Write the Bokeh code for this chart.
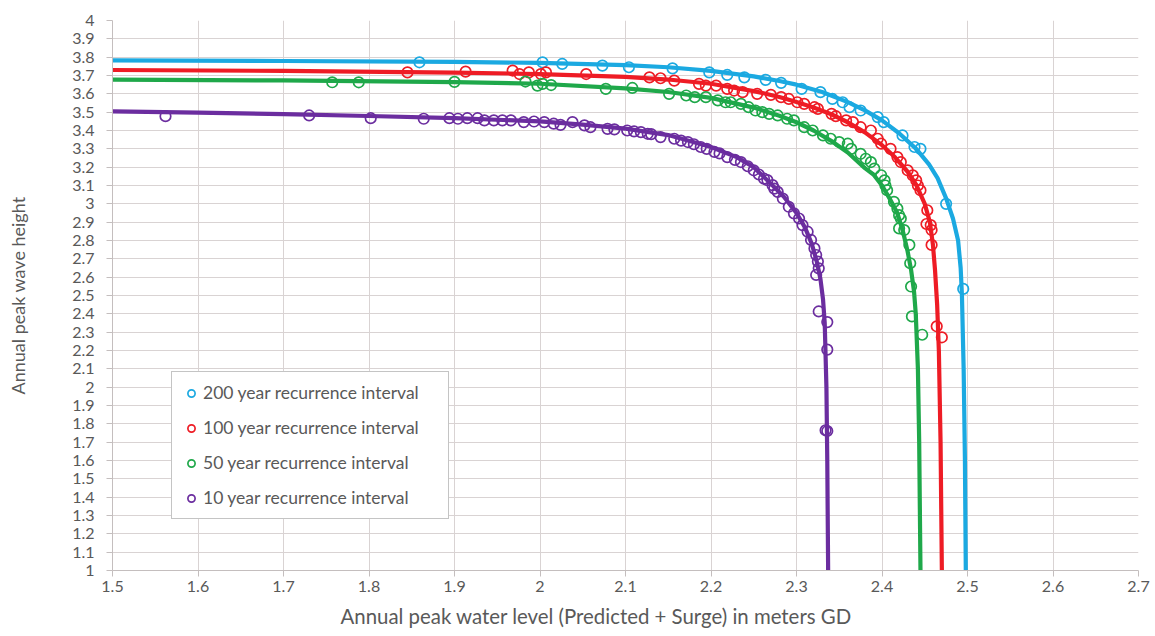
from bokeh.plotting import figure
from bokeh.models import (Legend, LegendItem, FixedTicker, NumeralTickFormatter,
                          Range1d, Title)
from bokeh.embed import file_html
from bokeh.resources import INLINE

# ---------------- data ----------------
x_ticks = [1.5, 1.6, 1.7, 1.8, 1.9, 2.0, 2.1, 2.2, 2.3, 2.4, 2.5, 2.6, 2.7]
y_ticks = [1.0, 1.1, 1.2, 1.3, 1.4, 1.5, 1.6, 1.7, 1.8, 1.9, 2.0, 2.1, 2.2, 2.3, 2.4,
           2.5, 2.6, 2.7, 2.8, 2.9, 3.0, 3.1, 3.2, 3.3, 3.4, 3.5, 3.6, 3.7, 3.8, 3.9, 4.0]

series_labels = ["200 year recurrence interval", "100 year recurrence interval",
                 "50 year recurrence interval", "10 year recurrence interval"]

x_title = "Annual peak water level (Predicted + Surge) in meters GD"
y_title = "Annual peak wave height"

# fitted curves
fit200_x = [1.50, 1.70, 1.90, 2.00, 2.10, 2.15, 2.20, 2.25, 2.28, 2.30, 2.33, 2.36, 2.38,
            2.40, 2.42, 2.44, 2.455, 2.465, 2.475, 2.483, 2.489, 2.492, 2.4935, 2.4955, 2.497, 2.498]
fit200_y = [3.782, 3.779, 3.774, 3.769, 3.757, 3.745, 3.725, 3.695, 3.670, 3.650, 3.610, 3.555, 3.510,
            3.455, 3.385, 3.300, 3.215, 3.140, 3.030, 2.920, 2.800, 2.650, 2.500, 2.100, 1.600, 1.000]

fit100_x = [1.50, 1.70, 1.90, 2.00, 2.10, 2.15, 2.20, 2.25, 2.28, 2.30, 2.32, 2.34, 2.36, 2.38,
            2.40, 2.415, 2.43, 2.44, 2.45, 2.456, 2.4595, 2.462, 2.4645, 2.4665, 2.4685, 2.470]
fit100_y = [3.730, 3.725, 3.716, 3.708, 3.692, 3.678, 3.655, 3.615, 3.583, 3.556, 3.525, 3.490, 3.445, 3.390,
            3.320, 3.255, 3.175, 3.105, 3.000, 2.900, 2.780, 2.640, 2.450, 2.200, 1.700, 1.000]

fit50_x = [1.50, 1.70, 1.90, 2.00, 2.10, 2.15, 2.20, 2.25, 2.28, 2.30, 2.32, 2.34, 2.36, 2.38,
           2.39, 2.40, 2.41, 2.418, 2.425, 2.43, 2.434, 2.4375, 2.4395, 2.442, 2.4435, 2.445]
fit50_y = [3.678, 3.673, 3.664, 3.655, 3.630, 3.610, 3.578, 3.525, 3.480, 3.445, 3.400, 3.345, 3.280, 3.195,
           3.160, 3.100, 3.020, 2.950, 2.840, 2.740, 2.640, 2.520, 2.400, 2.100, 1.700, 1.000]

fit10_x = [1.50, 1.60, 1.70, 1.80, 1.90, 2.00, 2.05, 2.10, 2.15, 2.20, 2.23, 2.25, 2.27, 2.285,
           2.30, 2.31, 2.318, 2.324, 2.328, 2.331, 2.333, 2.335, 2.336, 2.337]
fit10_y = [3.504, 3.497, 3.489, 3.479, 3.467, 3.450, 3.432, 3.410, 3.375, 3.310, 3.255, 3.200, 3.110, 3.040,
           2.950, 2.870, 2.780, 2.680, 2.590, 2.480, 2.350, 2.000, 1.600, 1.000]

# observed points
pts200_x = [1.859, 2.003, 2.026, 2.073, 2.104, 2.155, 2.198, 2.219, 2.239, 2.264, 2.282, 2.306,
            2.328, 2.342, 2.354, 2.362, 2.375, 2.395, 2.402, 2.424, 2.438, 2.445, 2.475, 2.495]
pts200_y = [3.772, 3.772, 3.763, 3.754, 3.745, 3.739, 3.717, 3.703, 3.690, 3.676, 3.660, 3.627,
            3.609, 3.572, 3.554, 3.527, 3.509, 3.473, 3.446, 3.373, 3.310, 3.300, 3.000, 2.536]

pts100_x = [1.845, 1.913, 1.968, 1.976, 1.987, 2.001, 2.007, 2.054, 2.128, 2.141, 2.157, 2.186,
            2.194, 2.206, 2.219, 2.227, 2.237, 2.254, 2.270, 2.282, 2.291, 2.301, 2.309, 2.321,
            2.325, 2.341, 2.346, 2.358, 2.366, 2.375, 2.387, 2.395, 2.399, 2.410, 2.418, 2.422,
            2.430, 2.436, 2.440, 2.442, 2.445, 2.453, 2.452, 2.457, 2.458, 2.458, 2.464, 2.470]
pts100_y = [3.717, 3.721, 3.727, 3.708, 3.717, 3.708, 3.717, 3.708, 3.690, 3.685, 3.672, 3.654,
            3.645, 3.645, 3.627, 3.618, 3.609, 3.600, 3.594, 3.582, 3.572, 3.554, 3.545, 3.527,
            3.518, 3.491, 3.478, 3.455, 3.446, 3.418, 3.400, 3.355, 3.328, 3.300, 3.255, 3.228,
            3.183, 3.155, 3.128, 3.100, 3.074, 2.965, 2.890, 2.884, 2.857, 2.776, 2.332, 2.272]

pts50_x = [1.757, 1.788, 1.900, 1.983, 1.997, 2.003, 2.013, 2.077, 2.108, 2.151, 2.171, 2.181,
           2.194, 2.208, 2.217, 2.223, 2.235, 2.244, 2.252, 2.260, 2.268, 2.278, 2.289, 2.297,
           2.309, 2.319, 2.331, 2.340, 2.350, 2.360, 2.364, 2.375, 2.381, 2.387, 2.391, 2.399,
           2.403, 2.404, 2.406, 2.414, 2.418, 2.420, 2.422, 2.420, 2.426, 2.432, 2.433, 2.434,
           2.435, 2.447]
pts50_y = [3.663, 3.663, 3.665, 3.667, 3.645, 3.654, 3.648, 3.627, 3.632, 3.600, 3.591, 3.582,
           3.582, 3.564, 3.554, 3.554, 3.545, 3.527, 3.509, 3.500, 3.491, 3.482, 3.464, 3.455,
           3.418, 3.400, 3.373, 3.355, 3.337, 3.328, 3.300, 3.273, 3.246, 3.228, 3.192, 3.156,
           3.128, 3.100, 3.074, 3.011, 2.974, 2.938, 2.920, 2.866, 2.857, 2.776, 2.676, 2.549,
           2.386, 2.286]

pts10_x = [1.562, 1.730, 1.802, 1.864, 1.894, 1.904, 1.915, 1.927, 1.935, 1.946, 1.956, 1.966,
           1.981, 1.993, 2.005, 2.016, 2.024, 2.038, 2.052, 2.059, 2.079, 2.087, 2.102, 2.110,
           2.118, 2.126, 2.130, 2.141, 2.157, 2.165, 2.173, 2.180, 2.188, 2.195, 2.204, 2.210,
           2.219, 2.228, 2.235, 2.243, 2.250, 2.256, 2.262, 2.266, 2.272, 2.274, 2.278, 2.284,
           2.291, 2.297, 2.303, 2.307, 2.313, 2.317, 2.321, 2.323, 2.325, 2.326, 2.323, 2.326,
           2.336, 2.336, 2.336, 2.334]
pts10_y = [3.478, 3.482, 3.467, 3.464, 3.467, 3.464, 3.467, 3.467, 3.455, 3.455, 3.455, 3.455,
           3.446, 3.449, 3.446, 3.437, 3.431, 3.446, 3.428, 3.418, 3.409, 3.406, 3.400, 3.395,
           3.391, 3.382, 3.380, 3.364, 3.355, 3.345, 3.337, 3.325, 3.310, 3.300, 3.283, 3.275,
           3.255, 3.240, 3.228, 3.205, 3.183, 3.160, 3.137, 3.129, 3.102, 3.083, 3.065, 3.029,
           2.984, 2.948, 2.920, 2.884, 2.848, 2.803, 2.757, 2.721, 2.685, 2.648, 2.612, 2.413,
           2.355, 2.205, 1.761, 1.765]

colors = ["#1BA9E1", "#EE1C25", "#1FA84A", "#6B2D9F"]

fits = [(fit200_x, fit200_y), (fit100_x, fit100_y), (fit50_x, fit50_y), (fit10_x, fit10_y)]
pts = [(pts200_x, pts200_y), (pts100_x, pts100_y), (pts50_x, pts50_y), (pts10_x, pts10_y)]

FONT = "Lato"
TXT = "#595959"
GRID = "#D9D3D3"

p = figure(width=1155, height=636, output_backend="svg", toolbar_location=None,
           x_range=Range1d(1.5, 2.7), y_range=Range1d(1.0, 4.0),
           min_border_left=112, min_border_right=17, min_border_top=20, min_border_bottom=66)
p.outline_line_color = None
p.background_fill_color = "white"
p.border_fill_color = "white"

for ax, ticks in ((p.xaxis[0], x_ticks), (p.yaxis[0], y_ticks)):
    ax.ticker = FixedTicker(ticks=ticks)
    ax.formatter = NumeralTickFormatter(format="0.[0]")
    ax.major_label_text_font = FONT
    ax.major_label_text_font_size = "16px"
    ax.major_label_text_color = TXT
    ax.axis_line_color = "#C4BEBE"
    ax.major_tick_line_color = "#C4BEBE"
    ax.major_tick_in = 0
    ax.major_tick_out = 6
    ax.minor_tick_line_color = None
    ax.axis_label_text_font = FONT
    ax.axis_label_text_font_style = "normal"
    ax.axis_label_text_color = TXT

p.yaxis.axis_label = y_title
p.yaxis.axis_label_text_font_size = "18px"
p.xaxis.major_label_standoff = 4
p.yaxis.major_label_standoff = 12
p.yaxis.axis_label_standoff = 40

# x-axis title as a below-title so it can be shifted left like the original
xt = Title(text=x_title, align="left", offset=228, standoff=14,
           text_font=FONT, text_font_size="20.4px", text_font_style="normal",
           text_color=TXT)
p.add_layout(xt, "below")

p.xgrid.ticker = FixedTicker(ticks=x_ticks)
p.ygrid.ticker = FixedTicker(ticks=y_ticks)
for g in (p.xgrid[0], p.ygrid[0]):
    g.grid_line_color = GRID
    g.grid_line_width = 1

scatter_renderers = []
for (fx, fy), col in zip(fits, colors):
    p.line(fx, fy, line_color=col, line_width=4.2, line_join="round", line_cap="round")
for (sx, sy), col in zip(pts, colors):
    r = p.scatter(sx, sy, marker="circle", size=10.5, fill_color=None,
                  line_color=col, line_width=1.7)
    scatter_renderers.append(r)

legend = Legend(items=[LegendItem(label=lab, renderers=[r])
                       for lab, r in zip(series_labels, scatter_renderers)],
                location=(59, 51), padding=10, spacing=14, margin=0,
                glyph_width=18, glyph_height=20, label_height=20, label_width=235,
                label_standoff=3, label_text_font=FONT, label_text_font_size="17.5px",
                label_text_color=TXT, border_line_color="#8A8A8A", border_line_width=1,
                background_fill_color="white", background_fill_alpha=1.0)
p.add_layout(legend)

open("out.html", "w").write(file_html(p, INLINE))
